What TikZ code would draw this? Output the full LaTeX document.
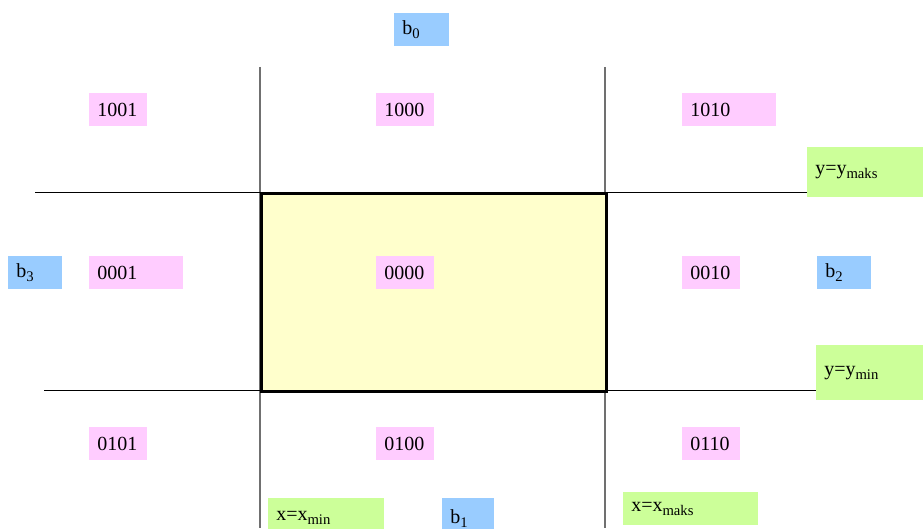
\documentclass[tikz,border=0pt]{standalone}
\usepackage{fontspec}
\setmainfont{Liberation Serif}
\usetikzlibrary{positioning}
\definecolor{codefill}{HTML}{FFCCFF}
\definecolor{bitfill}{HTML}{99CCFF}
\definecolor{edgefill}{HTML}{CCFF99}
\definecolor{winfill}{HTML}{FFFFCC}
\definecolor{linegray}{HTML}{707070}
\newcommand{\lowsub}[1]{\raisebox{-3.2pt}{\fontsize{11}{12}\selectfont #1}}
\tikzset{
  lbl/.style={anchor=north west, inner xsep=6pt, inner ysep=0pt, align=left, font=\fontsize{15}{18}\selectfont},
  code/.style={lbl, fill=codefill, minimum height=24.75pt},
  bitl/.style={lbl, fill=bitfill, minimum height=24.75pt},
  edgel/.style={lbl, fill=edgefill},
  vline/.style={draw=linegray, line width=1.1pt},
  hline/.style={draw=black, line width=0.75pt}}

\begin{document}
\begin{tikzpicture}[x=0.75pt, y=-0.75pt]
\useasboundingbox (0,0) rectangle (923,528);
\clip (0,0) rectangle (923,528);
% edge labels
\node[edgel, text width=75pt, minimum height=37.5pt] (ymaks) at (807,147) {y=y\lowsub{maks}};
\node[edgel, text width=68.25pt, minimum height=41.25pt] (ymin) at (816,345) {y=y\lowsub{min}};
\node[edgel, text width=75pt, minimum height=30pt] (xmin) at (268,498) {x=x\lowsub{min}};
\node[edgel, text width=89.25pt, minimum height=24.75pt] (xmaks) at (623,492) {x=x\lowsub{maks}};
% boundary lines
\coordinate (top) at (260,67);
\coordinate (bot) at (260,528);
\coordinate (topr) at (605,67);
\coordinate (botr) at (605,528);
\draw[vline] (top) -- (bot);
\draw[vline] (topr) -- (botr);
\draw[hline] (35,192) -- (ymaks.west |- 0,192);
\draw[hline] (44,390) -- (ymin.west |- 0,390);
% clip window
\node[draw, line width=2.6pt, fill=winfill, anchor=north west, minimum width=258.75pt, minimum height=148.5pt, inner sep=0pt] (win) at (260,192) {};
% region codes
\node[code, text width=31.5pt] (c1001) at (89,93) {1001};
\node[code, text width=31.5pt] (c1000) at (376,93) {1000};
\node[code, text width=58.5pt] (c1010) at (682,93) {1010};
\node[code, text width=58.5pt] (c0001) at (89,256) {0001};
\node[code, text width=31.5pt] (c0000) at (376,256) {0000};
\node[code, text width=31.5pt] (c0010) at (682,256) {0010};
\node[code, text width=31.5pt] (c0101) at (89,427) {0101};
\node[code, text width=31.5pt] (c0100) at (376,427) {0100};
\node[code, text width=31.5pt] (c0110) at (682,427) {0110};
% bits
\node[bitl, text width=29.25pt] (b0) at (394,13) {b\lowsub{0}};
\node[bitl, text width=28.5pt] (b3) at (8,256) {b\lowsub{3}};
\node[bitl, text width=28.5pt] (b2) at (817,256) {b\lowsub{2}};
\node[bitl, text width=27pt, minimum height=30pt] (b1) at (442,498) {b\lowsub{1}};
\end{tikzpicture}
\end{document}
